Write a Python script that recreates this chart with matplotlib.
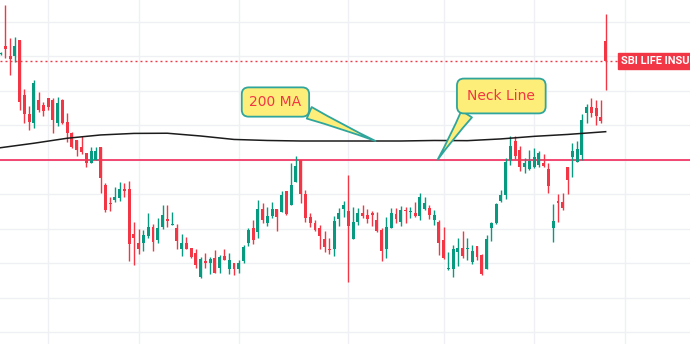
import numpy as np
import matplotlib
matplotlib.use("Agg")
import matplotlib.pyplot as plt

# daily candles (open, high, low, close)
opens = [1281.5, 1286.1, 1280.3, 1280.3, 1289.6, 1257.7, 1246.7, 1241.5, 1254.8, 1251.9,
         1256.0, 1254.8, 1241.5, 1254.8, 1242.0, 1235.7, 1231.6, 1227.5, 1224.1, 1218.3,
         1220.0, 1227.5, 1205.5, 1195.0, 1196.8, 1197.9, 1203.2, 1203.2, 1177.1, 1171.9,
         1171.9, 1175.9, 1181.1, 1173.6, 1181.1, 1185.8, 1182.3, 1180.6, 1168.4, 1171.9,
         1169.0, 1166.1, 1152.2, 1161.4, 1160.3, 1163.2, 1157.4, 1164.3, 1156.8, 1160.3,
         1156.8, 1161.4, 1171.9, 1180.6, 1178.2, 1191.6, 1183.5, 1187.5, 1191.6, 1189.8,
         1202.0, 1193.9, 1207.2, 1220.0, 1200.3, 1186.9, 1183.5, 1180.6, 1174.2, 1168.4,
         1168.4, 1185.8, 1191.6, 1190.4, 1174.2, 1184.0, 1189.2, 1188.1, 1189.2, 1185.2,
         1179.4, 1168.4, 1180.6, 1188.7, 1184.0, 1191.0, 1189.8, 1189.2, 1187.5, 1191.6,
         1192.1, 1185.2, 1184.0, 1173.6, 1156.8, 1156.8, 1166.6, 1169.0, 1168.4, 1160.8,
         1170.1, 1164.9, 1156.8, 1180.6, 1183.5, 1196.2, 1199.7, 1220.0, 1231.0, 1225.8,
         1216.0, 1214.8, 1216.0, 1217.1, 1218.3, 1214.8, 1180.6, 1196.2, 1195.6, 1216.0,
         1221.7, 1218.8, 1222.9, 1247.3, 1250.7, 1250.2, 1244.9, 1289.0]
highs = [1282.6, 1309.9, 1290.8, 1291.3, 1289.6, 1261.2, 1251.3, 1266.4, 1259.4, 1253.6,
         1256.0, 1256.0, 1256.5, 1255.4, 1247.3, 1236.2, 1231.6, 1233.9, 1224.1, 1227.5,
         1227.5, 1227.5, 1206.7, 1198.5, 1204.3, 1207.2, 1206.7, 1207.8, 1184.0, 1180.0,
         1179.4, 1189.2, 1182.9, 1186.4, 1193.9, 1193.9, 1189.8, 1182.9, 1177.1, 1175.4,
         1169.0, 1168.4, 1163.8, 1166.1, 1163.8, 1167.8, 1164.9, 1168.4, 1166.1, 1160.3,
         1162.0, 1170.7, 1180.6, 1185.2, 1196.8, 1195.0, 1192.7, 1195.6, 1191.6, 1202.0,
         1202.0, 1218.3, 1222.3, 1220.0, 1202.6, 1189.2, 1185.2, 1182.3, 1178.8, 1174.8,
         1187.5, 1192.1, 1196.2, 1211.3, 1192.7, 1192.1, 1193.9, 1191.6, 1190.4, 1189.8,
         1180.6, 1186.9, 1192.1, 1192.1, 1193.3, 1192.7, 1192.7, 1195.6, 1200.9, 1198.5,
         1193.9, 1191.0, 1185.2, 1181.1, 1166.6, 1170.7, 1174.8, 1178.8, 1174.8, 1170.7,
         1170.1, 1165.5, 1176.5, 1184.0, 1195.0, 1202.6, 1221.2, 1233.9, 1233.9, 1228.1,
         1221.2, 1225.8, 1227.0, 1225.2, 1223.5, 1218.3, 1194.5, 1200.3, 1200.9, 1216.0,
         1229.9, 1231.0, 1246.6, 1252.5, 1256.0, 1254.8, 1254.8, 1304.6]
lows = [1280.9, 1279.2, 1269.3, 1276.8, 1249.0, 1241.5, 1237.4, 1238.6, 1247.8, 1245.5,
        1249.0, 1235.7, 1239.7, 1240.9, 1230.4, 1227.0, 1222.3, 1223.5, 1216.0, 1218.3,
        1220.0, 1200.9, 1189.8, 1190.4, 1195.6, 1196.2, 1198.5, 1161.4, 1159.1, 1165.5,
        1167.2, 1174.8, 1167.2, 1171.9, 1180.0, 1181.1, 1182.3, 1168.4, 1164.3, 1168.4,
        1163.2, 1157.4, 1151.6, 1157.4, 1153.9, 1154.5, 1154.5, 1162.0, 1153.9, 1153.3,
        1154.5, 1160.3, 1170.1, 1171.3, 1174.8, 1183.5, 1181.7, 1186.4, 1178.8, 1189.8,
        1188.1, 1193.9, 1207.2, 1195.0, 1184.0, 1181.1, 1178.8, 1168.4, 1166.6, 1165.5,
        1164.3, 1181.7, 1186.9, 1149.2, 1174.2, 1182.3, 1186.4, 1183.5, 1181.7, 1178.2,
        1161.4, 1163.2, 1180.6, 1183.5, 1181.7, 1183.5, 1186.4, 1186.9, 1185.2, 1191.0,
        1185.8, 1182.3, 1164.9, 1162.6, 1156.2, 1152.2, 1158.5, 1163.2, 1162.0, 1159.7,
        1162.0, 1153.3, 1156.8, 1173.0, 1182.9, 1195.6, 1197.3, 1217.1, 1220.6, 1213.6,
        1212.5, 1214.2, 1215.4, 1216.0, 1216.0, 1200.9, 1172.4, 1184.0, 1191.0, 1200.3,
        1210.1, 1218.8, 1220.0, 1241.5, 1245.0, 1240.3, 1241.5, 1260.6]
closes = [1282.1, 1284.4, 1278.6, 1286.1, 1253.6, 1246.7, 1242.0, 1264.7, 1249.0, 1248.4,
          1250.7, 1243.2, 1253.0, 1241.5, 1235.7, 1227.5, 1225.8, 1224.6, 1218.3, 1225.2,
          1225.2, 1209.6, 1191.0, 1194.5, 1198.5, 1203.2, 1202.0, 1171.3, 1174.8, 1168.4,
          1176.5, 1181.1, 1172.4, 1180.6, 1188.1, 1184.6, 1182.9, 1173.0, 1171.9, 1168.4,
          1163.8, 1159.1, 1162.6, 1160.3, 1162.6, 1154.5, 1163.8, 1162.0, 1162.0, 1156.8,
          1160.3, 1169.5, 1179.4, 1173.6, 1191.6, 1185.2, 1187.5, 1191.6, 1186.9, 1199.7,
          1188.7, 1205.5, 1216.5, 1200.3, 1186.4, 1183.5, 1179.4, 1175.9, 1169.5, 1167.8,
          1184.6, 1189.2, 1193.9, 1181.7, 1184.0, 1189.2, 1187.5, 1185.8, 1188.1, 1178.8,
          1167.2, 1181.1, 1189.2, 1185.8, 1191.0, 1190.4, 1190.4, 1187.5, 1198.5, 1195.0,
          1188.1, 1188.1, 1171.9, 1163.2, 1157.4, 1168.4, 1169.0, 1164.3, 1169.0, 1167.2,
          1163.8, 1153.9, 1174.2, 1183.5, 1194.5, 1199.7, 1218.8, 1228.1, 1222.3, 1216.0,
          1218.3, 1219.4, 1221.7, 1224.1, 1216.5, 1204.9, 1184.6, 1195.0, 1192.1, 1208.4,
          1225.2, 1226.4, 1243.2, 1250.7, 1247.3, 1245.5, 1242.6, 1277.4]

# 200 day moving average, sampled
ma_idx = [0, 7, 14, 21, 28, 35, 42, 49, 56, 63, 70, 77, 84, 91, 98, 105, 112, 119, 127]
ma_val = [1227.1, 1229.7, 1232.6, 1234.5, 1235.4, 1235.5, 1233.9, 1231.9, 1231.3, 1231.0,
          1231.0, 1231.0, 1231.0, 1231.3, 1231.2, 1232.2, 1233.7, 1234.8, 1236.4]

neck_level = 1220.0
month_starts = [10, 29, 50, 73, 93, 112, 131]
price_grid = np.arange(1120, 1301, 20)
ticker = "SBI LIFE INSU"

GREEN = "#089981"
RED = "#F23645"
PINK = "#F2295B"
YELLOW = "#FDEE7A"
TEAL = "#2FA59C"

o = np.array(opens)
h = np.array(highs)
l = np.array(lows)
c = np.array(closes)
x = np.arange(len(o))
up = c >= o
cols = np.where(up, GREEN, RED)

fig = plt.figure(figsize=(6.9, 3.44), dpi=100)
ax = fig.add_axes([0, 0, 1, 1])
ax.set_xlim(-0.105, 144.7)
ax.set_ylim(1113.3, 1312.75)
for s in ax.spines.values():
    s.set_visible(False)
ax.set_xticks(month_starts)
ax.set_yticks(price_grid)
ax.tick_params(length=0, labelbottom=False, labelleft=False)
ax.grid(True, color="#EEF0F4", lw=1)
ax.set_axisbelow(True)

# candles
ax.vlines(x, l, h, colors=cols, lw=1, zorder=3)
body_lo = np.minimum(o, c)
body_h = np.maximum(np.abs(c - o), 0.6)
ax.bar(x, body_h, bottom=body_lo, width=0.62, color=cols, lw=0, zorder=4)

# moving average
ax.plot(ma_idx, ma_val, color="#1c1c1c", lw=1.1, zorder=5)

# neck line + last price line
ax.axhline(neck_level, color=PINK, lw=1.2, zorder=2)
ax.axhline(c[-1], color=RED, lw=1, ls=(0, (1.4, 2.2)), zorder=2)
ax.text(130.3, c[-1], ticker, color="white", fontsize=7.9, fontweight="bold",
        family="Roboto", va="center", ha="left", zorder=6,
        bbox=dict(boxstyle="square,pad=0.3", fc=RED, ec=RED))

# callouts
ax.annotate("200 MA", xy=(78.7, 1231.0), xytext=(57.7, 1253.6),
            ha="center", va="center", fontsize=10, color=RED, zorder=7,
            bbox=dict(boxstyle="round,pad=0.55,rounding_size=0.5", fc=YELLOW, ec=TEAL, lw=1.3),
            arrowprops=dict(arrowstyle="wedge,tail_width=0.9,shrink_factor=0.4",
                            fc=YELLOW, ec=TEAL, lw=1.3, relpos=(0.85, 0.2),
                            shrinkA=0, shrinkB=0))
ax.annotate("Neck Line", xy=(91.7, neck_level), xytext=(105.1, 1257.1),
            ha="center", va="center", fontsize=10, color=RED, zorder=7,
            bbox=dict(boxstyle="round,pad=0.75,rounding_size=0.5", fc=YELLOW, ec=TEAL, lw=1.3),
            arrowprops=dict(arrowstyle="wedge,tail_width=0.9,shrink_factor=0.4",
                            fc=YELLOW, ec=TEAL, lw=1.3, relpos=(0.12, 0.2),
                            shrinkA=0, shrinkB=0))

fig.savefig("out.png", dpi=100)
